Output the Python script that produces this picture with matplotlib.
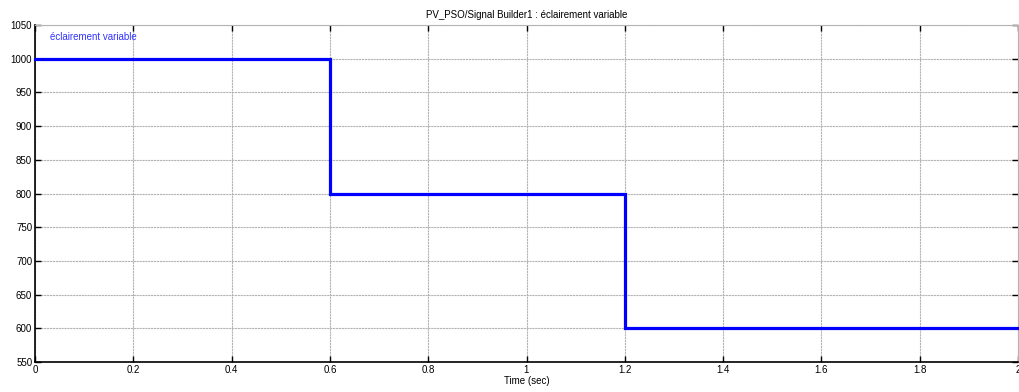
import matplotlib
matplotlib.use("Agg")
import matplotlib.pyplot as plt

times = [0, 0.6, 0.6, 1.2, 1.2, 2.0]
irradiance = [1000, 1000, 800, 800, 600, 600]
xticks = [0, 0.2, 0.4, 0.6, 0.8, 1, 1.2, 1.4, 1.6, 1.8, 2]
xticklabels = ["0", "0.2", "0.4", "0.6", "0.8", "1", "1.2", "1.4", "1.6", "1.8", "2"]
yticks = [550, 600, 650, 700, 750, 800, 850, 900, 950, 1000, 1050]

plt.rcParams['font.family'] = ['Liberation Sans', 'DejaVu Sans']
fig = plt.figure(figsize=(10.19, 3.92), dpi=100)
ax = fig.add_axes([35/1019, 1 - 362/392, (1018-35)/1019, (362-25)/392])
ax.plot(times, irradiance, color='#0000ff', lw=2.3, solid_joinstyle='miter', clip_on=False, zorder=3)
ax.set_xlim(0, 2)
ax.set_ylim(550, 1050)
ax.set_xticks(xticks)
ax.set_xticklabels(xticklabels)
ax.set_yticks(yticks)
ax.grid(True, color='#b4b4b4', linestyle=(0, (2, 0.6)), lw=0.8)
ax.tick_params(direction='in', labelsize=7, length=4, width=1, colors='black', pad=2)
ax.tick_params(top=True, right=True)
for s in ['left', 'bottom']:
    ax.spines[s].set_linewidth(1.2)
for s in ['top', 'right']:
    ax.spines[s].set_color('#b4b4b4')
    ax.spines[s].set_linewidth(0.8)
ax.set_xlabel('Time (sec)', fontsize=7, labelpad=1)
ax.set_title('PV_PSO/Signal Builder1 : éclairement variable', fontsize=7, pad=5)
ax.text(0.0305, 1032, 'éclairement variable', color='#3333ff', fontsize=7, va='center')
fig.savefig('out.png', dpi=100)
